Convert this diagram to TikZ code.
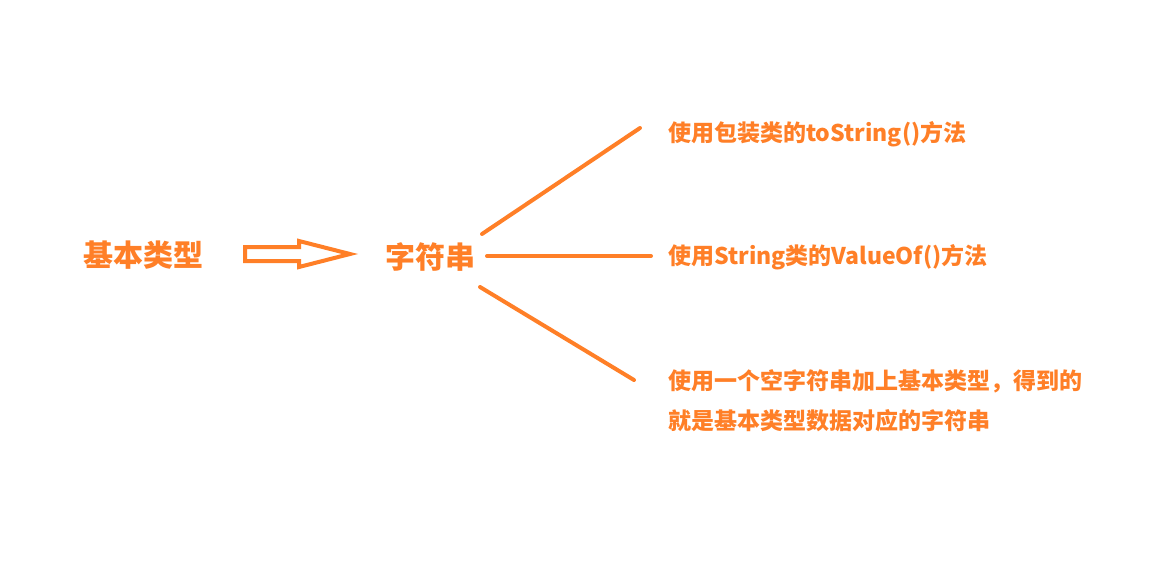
\documentclass[tikz,border=0pt]{standalone}
\usepackage{fontspec}
\setmainfont{Noto Sans CJK SC}
\definecolor{org}{HTML}{FF7F27}
\tikzset{
  big/.style={text=org, inner sep=0pt, font=\bfseries\fontsize{30}{34}\selectfont},
  small/.style={text=org, inner sep=0pt, anchor=west, align=left, font=\bfseries\fontsize{23}{40}\selectfont},
  conn/.style={draw=org, line width=4pt, line cap=round},
  bigarrow/.style={draw=org, line width=4pt, line join=miter, fill=white}
}
\begin{document}
\begin{tikzpicture}[x=1pt,y=-1pt]
\useasboundingbox (0,0) rectangle (1157,576);
\node[big] (base) at (143,255) {基本类型};
\node[big] (str) at (430,257) {字符串};
\node[small] (t1) at (668,134) {使用包装类的toString()方法};
\node[small] (t2) at (668,257) {使用String类的ValueOf()方法};
\node[small] (t3) at (668,401) {使用一个空字符串加上基本类型，得到的\\就是基本类型数据对应的字符串};
\coordinate (a0) at (245,254);
\draw[bigarrow] (a0) ++(0,-7) -- (299,247) -- (299,241) -- (350,254) -- (299,267) -- (299,261) -- (245,261) -- cycle;
\coordinate (s1) at (482,234);
\coordinate (e1) at (640,128);
\coordinate (s2) at (487,256);
\coordinate (e2) at (651,256);
\coordinate (s3) at (480,287);
\coordinate (e3) at (634,380);
\draw[conn] (s1) -- (e1);
\draw[conn] (s2) -- (e2);
\draw[conn] (s3) -- (e3);
\end{tikzpicture}
\end{document}
